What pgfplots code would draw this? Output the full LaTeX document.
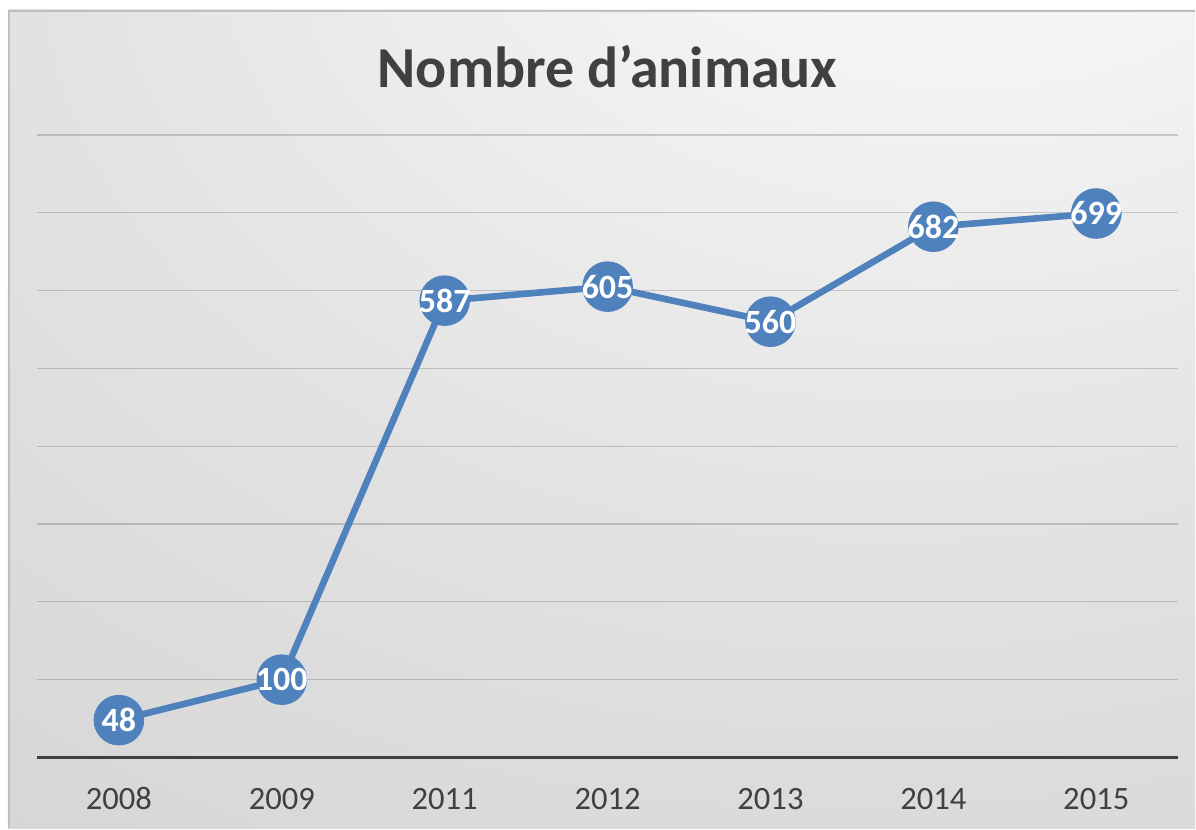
\documentclass[border=0pt]{standalone}
\usepackage{pgfplots}
\pgfplotsset{compat=1.18}
\usepackage{fontspec}
\setmainfont{Carlito}
\definecolor{serblue}{HTML}{4F81BD}
\definecolor{txtgray}{HTML}{404040}
\pgfdeclareradialshading{chartbg}{\pgfpoint{18bp}{42bp}}{%
  color(0bp)=(white);
  color(10bp)=(white!97!black);
  color(35bp)=(white!89!black);
  color(65bp)=(white!82!black);
  color(110bp)=(white!77!black)}
\begin{document}
\begin{tikzpicture}[x=1pt,y=1pt]
\fill[white] (0,0) rectangle (598,414.5);
\shade[shading=chartbg] (4,0) rectangle (598,409.5);
\draw[black!25, line width=0.8pt] (4.4,0) -- (4.4,409.1) -- (598,409.1);
\node[font=\bfseries\fontsize{29}{35}\selectfont, text=txtgray, anchor=base] at (304,370.5) {Nombre d’animaux};
\begin{axis}[
  at={(18.75pt,35.5pt)}, anchor=south west,
  scale only axis, width=570.5pt, height=311.5pt,
  xmin=-0.5, xmax=6.5, ymin=0, ymax=800,
  axis x line=bottom, axis y line=left,
  x axis line style={color=txtgray, line width=2pt, -},
  y axis line style={draw=none},
  xtick={0,...,6},
  xticklabels={2008,2009,2011,2012,2013,2014,2015},
  xticklabel style={font=\fontsize{16.3}{20}\selectfont, text=txtgray, anchor=base, yshift=-26pt},
  major tick length=0pt,
  ytick={100,200,...,800}, yticklabels={},
  ymajorgrids,
  grid style={black, opacity=0.17, line width=0.6pt},
  clip=false,
]
\addplot[color=serblue, line width=3.3pt, mark=*, mark size=11pt,
  mark options={solid, fill=serblue, draw=none},
  point meta=explicit symbolic,
  nodes near coords,
  every node near coord/.append style={anchor=center, text=white, font=\bfseries\fontsize{17}{20}\selectfont, inner sep=0pt},
] coordinates {
  (0,48) [48]
  (1,100) [100]
  (2,587) [587]
  (3,605) [605]
  (4,560) [560]
  (5,682) [682]
  (6,699) [699]
};
\end{axis}
\end{tikzpicture}
\end{document}
